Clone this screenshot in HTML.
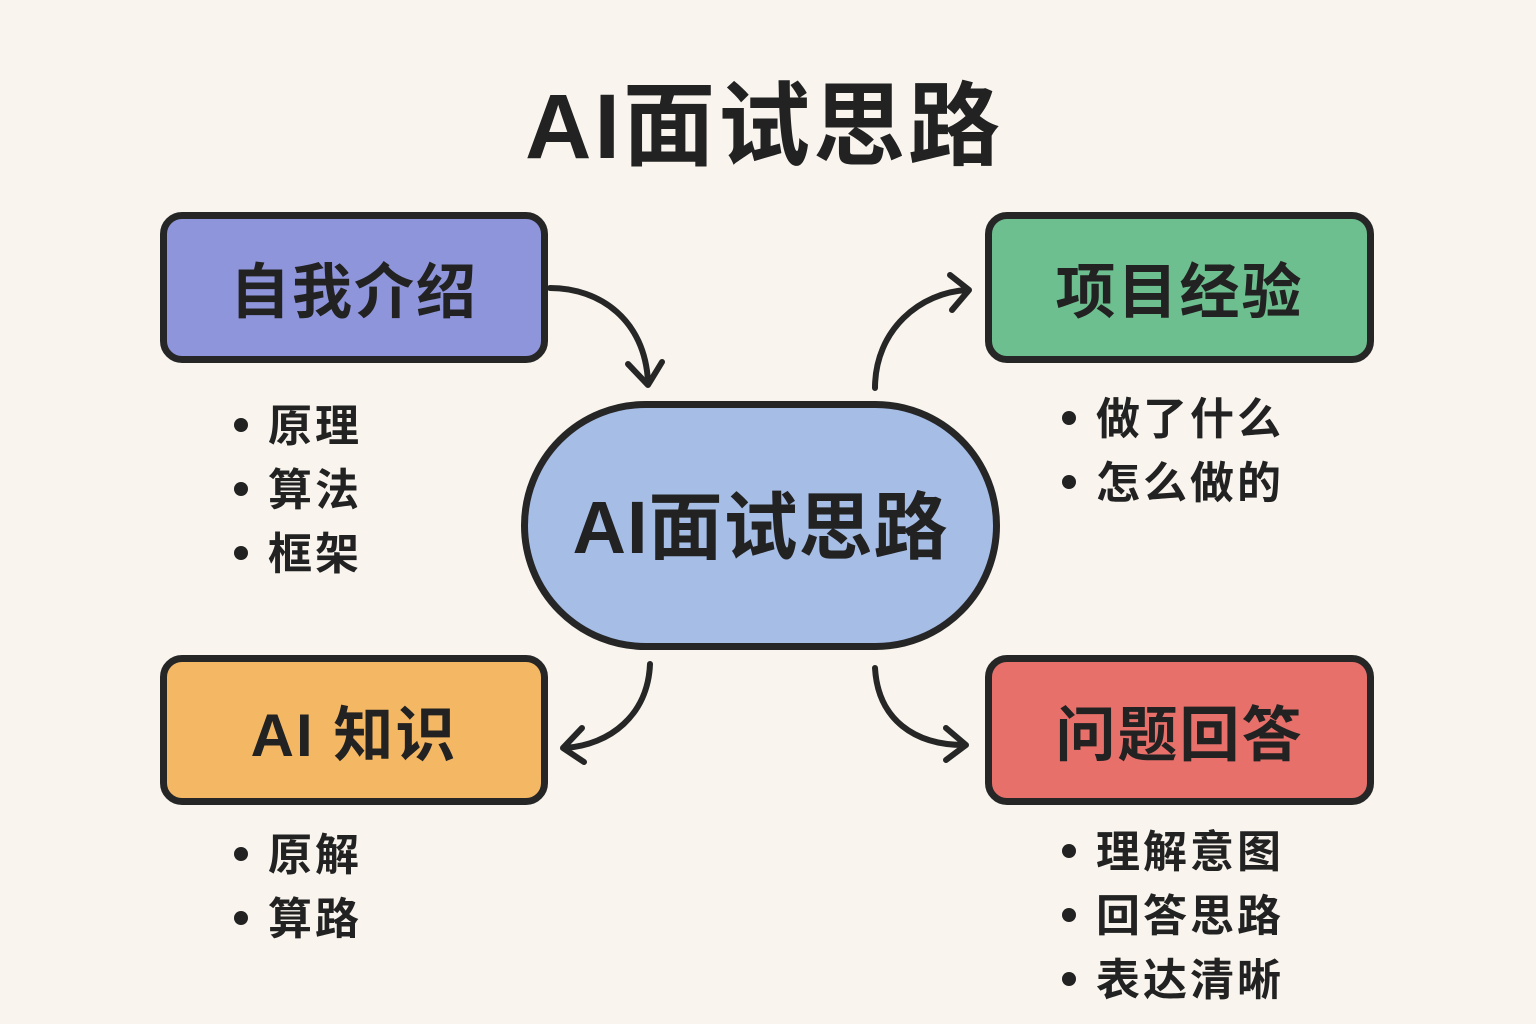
<!DOCTYPE html>
<html><head><meta charset="utf-8"><style>
body{margin:0;width:1536px;height:1024px;background:#f9f5ee;position:relative;overflow:hidden;font-family:"Liberation Sans","Noto Sans CJK SC",sans-serif;color:#222}
.t{position:absolute;left:-4px;width:1536px;text-align:center;top:72px;font-size:92px;font-weight:bold;line-height:110px;letter-spacing:3px}
.b{position:absolute;border:7px solid #262626;border-radius:22px;box-sizing:border-box;display:flex;align-items:center;justify-content:center;font-size:60px;font-weight:bold;letter-spacing:2px}
.l{position:absolute;font-size:44px;font-weight:bold;line-height:64px;letter-spacing:3px}
.l div:before{content:"";display:inline-block;width:14px;height:14px;border-radius:50%;background:#222;margin-right:20px;vertical-align:middle;position:relative;top:-4px}
</style></head><body>
<div class="t">AI面试思路</div>
<div class="b" style="left:160px;top:212px;width:388px;height:151px;background:#8e95db">自我介绍</div>
<div class="b" style="left:985px;top:212px;width:389px;height:151px;background:#6dbf8f">项目经验</div>
<div class="b" style="left:160px;top:655px;width:388px;height:150px;background:#f4b865">AI 知识</div>
<div class="b" style="left:985px;top:655px;width:389px;height:150px;background:#e8706a">问题回答</div>
<div class="b" style="left:521px;top:401px;width:479px;height:249px;border-radius:125px;background:#a6bde6;font-size:74px;letter-spacing:1px;padding-bottom:8px">AI面试思路</div>
<div class="l" style="left:234px;top:395px"><div>原理</div><div>算法</div><div>框架</div></div>
<div class="l" style="left:1062px;top:388px"><div>做了什么</div><div>怎么做的</div></div>
<div class="l" style="left:234px;top:824px"><div>原解</div><div>算路</div></div>
<div class="l" style="left:1062px;top:821px"><div>理解意图</div><div>回答思路</div><div>表达清晰</div></div>
<svg width="1536" height="1024" style="position:absolute;left:0;top:0" fill="none" stroke="#262626" stroke-width="6" stroke-linecap="round" stroke-linejoin="round">
<path d="M550 288 C600 288 645 320 648 382"/><path d="M628 364 L648 385 L662 362"/>
<path d="M875 388 C875 330 920 292 968 290"/><path d="M950 275 L969 290 L952 310"/>
<path d="M650 664 C648 715 610 745 565 748"/><path d="M582 728 L563 748 L584 762"/>
<path d="M875 668 C878 720 915 745 964 745"/><path d="M946 728 L966 745 L946 760"/>
</svg>
</body></html>
